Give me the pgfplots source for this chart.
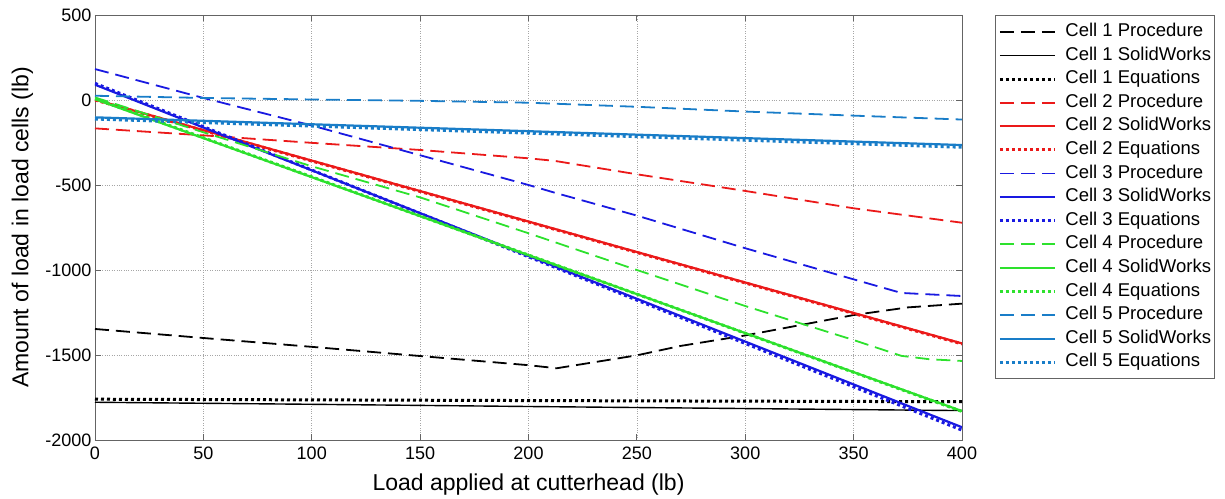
\documentclass[border=0pt]{standalone}
\usepackage{fontspec}
\setmainfont{Liberation Sans}
\usepackage{pgfplots}
\pgfplotsset{compat=1.18}

\definecolor{cOne}{RGB}{0,0,0}
\definecolor{cTwo}{RGB}{235,25,25}
\definecolor{cThree}{RGB}{25,25,225}
\definecolor{cFour}{RGB}{45,225,45}
\definecolor{cFive}{RGB}{25,125,200}
\definecolor{frame}{RGB}{100,100,100}

\tikzset{
  proc/.style={dash pattern=on 14bp off 7bp, line width=1.8bp},
  sw/.style={solid, line width=2.2bp},
  eq/.style={dash pattern=on 3bp off 3bp, line width=3bp},
}

\begin{document}
\begin{tikzpicture}
\begin{axis}[
  scale only axis,
  width=867bp, height=425bp,
  xmin=0, xmax=400, ymin=-2000, ymax=500,
  xtick={0,50,...,400},
  ytick={-2000,-1500,...,500},
  grid=major,
  major grid style={dotted, gray!70, line width=0.6bp},
  tick align=inside,
  major tick length=6bp,
  axis line style={frame, line width=0.9bp},
  tick style={frame, line width=0.9bp},
  tick label style={font=\fontsize{18bp}{20bp}\selectfont},
  xticklabel style={yshift=-3bp},
  /pgf/number format/assume math mode=true,
  /pgf/number format/set thousands separator={},
  label style={font=\fontsize{23bp}{26bp}\selectfont},
  xlabel={Load applied at cutterhead (lb)},
  ylabel={Amount of load in load cells (lb)},
  xlabel style={at={(axis description cs:0.5,-0.1193)}, anchor=base},
  ylabel style={at={(axis description cs:-0.0769,0.5)}, anchor=base},
  legend style={
    at={(1,1)}, anchor=north west, xshift=33bp,
    draw=frame, line width=0.9bp,
    font=\fontsize{18.5bp}{20bp}\selectfont,
    inner xsep=3bp, inner ysep=8bp,
    row sep=6.6bp, column sep=9bp,
    nodes={inner sep=0pt, text height=13bp, text depth=4bp},
  },
  legend cell align=left,
  legend image code/.code={%
    \draw[#1] (0bp,0bp) -- (55bp,0bp);
  },
]

% Cell 1
\addplot[cOne, proc] coordinates {
  (0,-1347) (50,-1400) (100,-1452) (150,-1506) (200,-1560) (213,-1578)
  (250,-1502) (270,-1447) (300,-1385) (350,-1265) (375,-1220) (400,-1198)};
\addlegendentry{Cell 1 Procedure}
\addplot[cOne, solid, line width=1.4bp] coordinates {
  (0,-1778) (100,-1790) (200,-1803) (300,-1815) (400,-1827)};
\addlegendentry{Cell 1 SolidWorks}
\addplot[cOne, eq] coordinates {
  (0,-1760) (200,-1768) (400,-1775)};
\addlegendentry{Cell 1 Equations}

% Cell 2
\addplot[cTwo, proc] coordinates {
  (0,-167) (50,-208) (100,-252) (150,-294) (200,-343) (212,-358)
  (250,-437) (300,-535) (350,-637) (400,-722)};
\addlegendentry{Cell 2 Procedure}
\addplot[cTwo, sw] coordinates {(0,2) (400,-1432)};
\addlegendentry{Cell 2 SolidWorks}
\addplot[cTwo, eq] coordinates {(0,0) (400,-1435)};
\addlegendentry{Cell 2 Equations}

% Cell 3
\addplot[cThree, proc] coordinates {
  (0,182) (50,12) (100,-150) (150,-325) (200,-500) (212,-545)
  (250,-680) (300,-872) (350,-1055) (372,-1135) (400,-1153)};
\addlegendentry{Cell 3 Procedure}
\addplot[cThree, sw] coordinates {(0,90) (400,-1925)};
\addlegendentry{Cell 3 SolidWorks}
\addplot[cThree, eq] coordinates {(0,98) (400,-1942)};
\addlegendentry{Cell 3 Equations}

% Cell 4
\addplot[cFour, proc] coordinates {
  (0,15) (50,-190) (100,-390) (150,-573) (200,-784) (250,-1000)
  (300,-1212) (350,-1412) (372,-1505) (385,-1525) (400,-1535)};
\addlegendentry{Cell 4 Procedure}
\addplot[cFour, sw] coordinates {(0,5) (400,-1830)};
\addlegendentry{Cell 4 SolidWorks}
\addplot[cFour, eq] coordinates {(0,8) (400,-1832)};
\addlegendentry{Cell 4 Equations}

% Cell 5
\addplot[cFive, proc] coordinates {
  (0,25) (50,12) (100,3) (150,-5) (200,-16) (250,-40)
  (300,-68) (350,-92) (400,-115)};
\addlegendentry{Cell 5 Procedure}
\addplot[cFive, sw] coordinates {(0,-102) (400,-265)};
\addlegendentry{Cell 5 SolidWorks}
\addplot[cFive, eq] coordinates {(0,-112) (400,-278)};
\addlegendentry{Cell 5 Equations}

\end{axis}
\useasboundingbox (-95bp,-57bp) rectangle (1130bp,440bp);
\end{tikzpicture}
\end{document}
